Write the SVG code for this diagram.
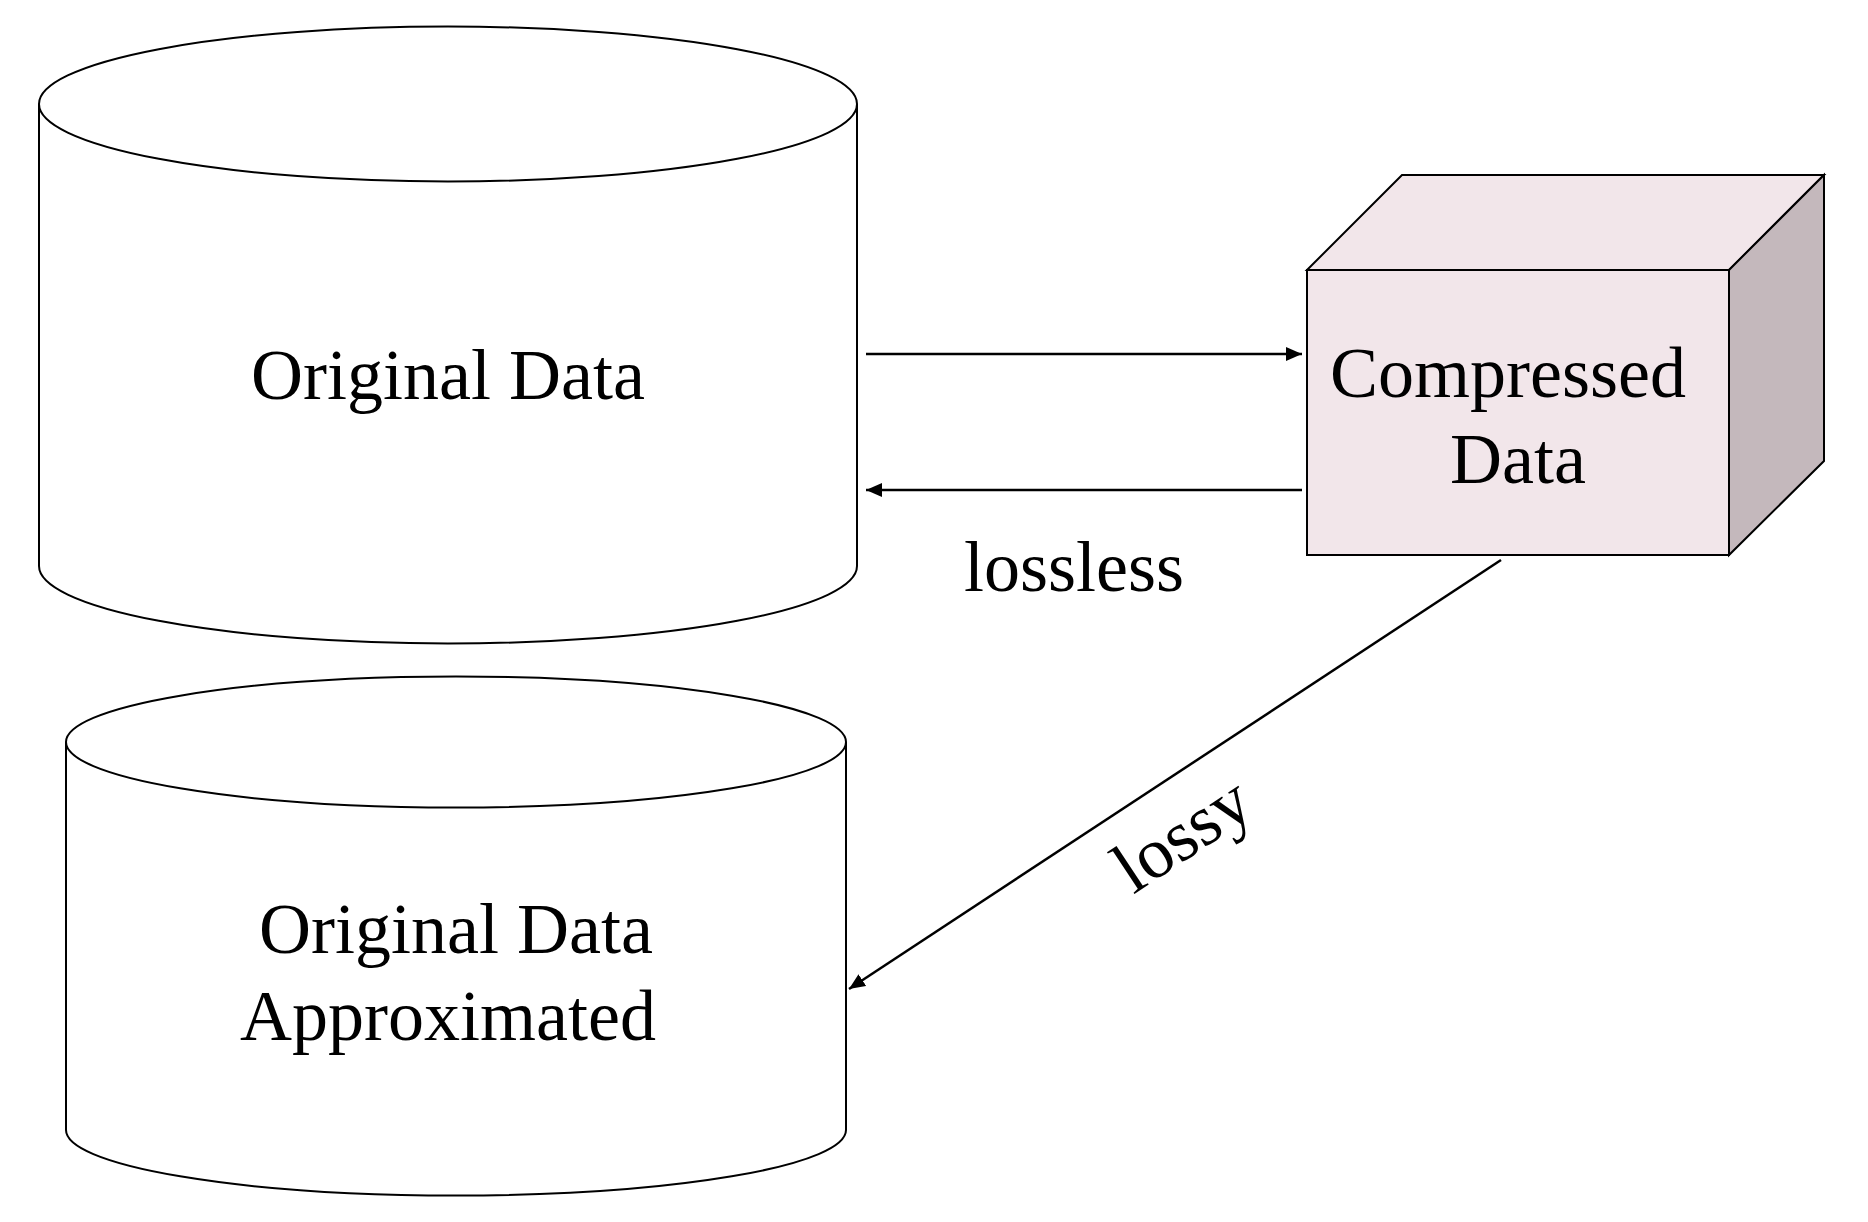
<svg xmlns="http://www.w3.org/2000/svg" width="1868" height="1222" viewBox="0 0 1868 1222">
<style>
.ln{stroke:#000;stroke-width:2.5;fill:none}
.cyl{fill:#fff;stroke:#000;stroke-width:2}
.t{font-family:"Liberation Serif","Times New Roman",serif;font-size:72px;fill:#000}
</style>
<defs>
<marker id="ah" viewBox="0 0 16 14" refX="16" refY="7" markerWidth="16" markerHeight="14" orient="auto" markerUnits="userSpaceOnUse">
<path d="M0,0 L16,7 L0,14 z" fill="#000"/>
</marker>
</defs>
<rect width="1868" height="1222" fill="#fff"/>
<g id="original">
<path class="cyl" d="M39,104 L39,566 A409,77.5 0 0 0 857,566 L857,104"/>
<ellipse class="cyl" cx="448" cy="104" rx="409" ry="77.5"/>
<text class="t" x="448" y="399" text-anchor="middle">Original Data</text>
</g>
<g id="approx">
<path class="cyl" d="M66,742 L66,1130 A390,65.5 0 0 0 846,1130 L846,742"/>
<ellipse class="cyl" cx="456" cy="742" rx="390" ry="65.5"/>
<text class="t" x="456" y="953" text-anchor="middle">Original Data</text>
<text class="t" x="448" y="1040" text-anchor="middle">Approximated</text>
</g>
<g id="compressed">
<polygon points="1307,270 1402,175 1824,175 1729,270" fill="#F2E6EA" stroke="#000" stroke-width="2"/>
<polygon points="1729,270 1824,175 1824,461 1729,555" fill="#C4B8BC" stroke="#000" stroke-width="2"/>
<rect x="1307" y="270" width="422" height="285" fill="#F2E6EA" stroke="#000" stroke-width="2"/>
<text class="t" x="1508" y="397" text-anchor="middle">Compressed</text>
<text class="t" x="1518" y="483" text-anchor="middle">Data</text>
</g>
<g id="connectors">
<line class="ln" x1="866" y1="354" x2="1302" y2="354" marker-end="url(#ah)"/>
<line class="ln" x1="1302" y1="490" x2="866" y2="490" marker-end="url(#ah)"/>
<line class="ln" x1="1501" y1="560" x2="849" y2="989" marker-end="url(#ah)"/>
<text class="t" x="1074" y="591" text-anchor="middle">lossless</text>
<text class="t" x="1195" y="854" text-anchor="middle" transform="rotate(-33.4 1195 854)">lossy</text>
</g>
</svg>
